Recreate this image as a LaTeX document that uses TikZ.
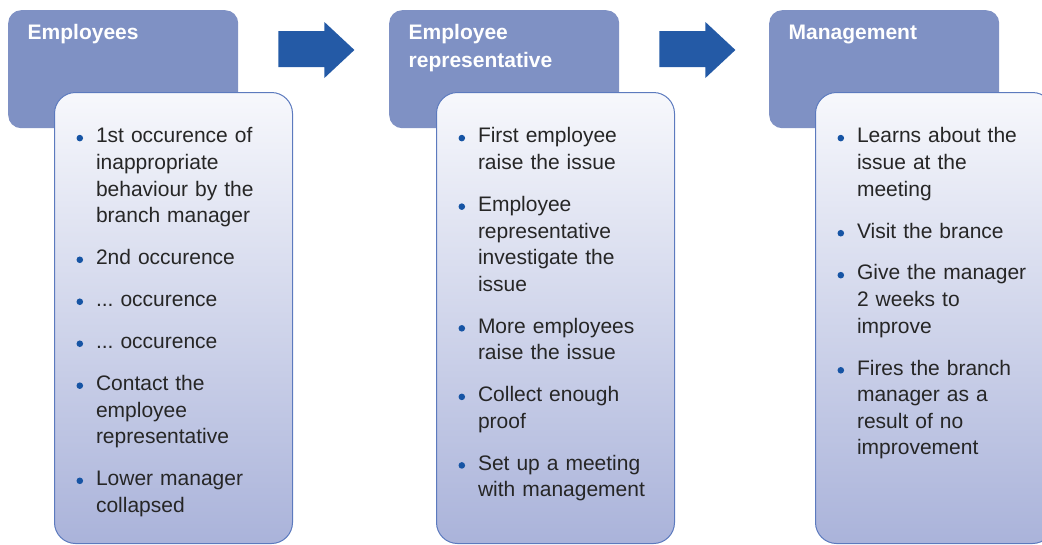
\documentclass[tikz,border=0pt]{standalone}
\usepackage{fontspec}
\setmainfont{Liberation Sans}
\usetikzlibrary{positioning,calc}
\definecolor{hdrblue}{RGB}{127,145,196}
\definecolor{arrblue}{RGB}{36,90,166}
\definecolor{edgeblue}{RGB}{92,122,190}
\definecolor{dotblue}{RGB}{22,84,164}
\definecolor{txtgray}{RGB}{38,38,38}
\definecolor{boxtop}{RGB}{247,248,252}
\definecolor{boxbot}{RGB}{170,179,218}
\newcommand{\tdots}{...}

\begin{document}
\begin{tikzpicture}[x=1pt,y=-1pt,
  hdr/.style={fill=hdrblue,rounded corners=13pt,minimum width=230pt,minimum height=118pt,anchor=north west,inner sep=0},
  body/.style={draw=edgeblue,line width=1pt,top color=boxtop,bottom color=boxbot,rounded corners=21pt,minimum width=238pt,minimum height=451pt,anchor=north west,inner sep=0},
  hdrtext/.style={anchor=north west,inner sep=0,text width=200pt,align=left,text=white,font=\bfseries\fontsize{21}{28.3}\selectfont,execute at begin node=\strut},
  item/.style={inner sep=0,text width=190pt,align=left,text=txtgray,font=\fontsize{21}{26.57}\selectfont\frenchspacing,execute at begin node=\strut,execute at end node=\strut},
  bigarrow/.style={fill=arrblue}]
  \useasboundingbox (0,0) rectangle (1042,544);
  % header boxes, list boxes on top
  \foreach \c/\hx/\bx/\lab in {1/8/54/{Employees},2/389/436/{Employee\\representative},3/769/815/{Management}}{
    \node[hdr] (hdr\c) at (\hx,10) {};
    \node[hdrtext] (hdrlab\c) at ($(hdr\c.north west)+(19.5,9.5)$) {\lab};
    \node[body] (body\c) at (\bx,92) {};
    \coordinate (it\c-0) at ($(body\c.north west)+(42+95,32.1-15)$);
  }
  % block arrows between the headers
  \foreach \a in {1,2}{
    \fill[bigarrow] ($(hdr\a.north east)+(40,21)$) -- ++(46,0) -- ++(0,-9) -- ++(30,28)
      -- ++(-30,28) -- ++(0,-11) -- ++(-46,0) -- cycle;
  }
  % bullet lists
  \foreach \c/\items in {
    1/{{1st occurence of\\inappropriate\\behaviour by the\\branch manager},{2nd occurence},{\tdots{} occurence},{\tdots{} occurence},{Contact the\\employee\\representative},{Lower manager\\collapsed}},
    2/{{First employee\\raise the issue},{Employee\\representative\\investigate the\\issue},{More employees\\raise the issue},{Collect enough\\proof},{Set up a meeting\\with management}},
    3/{{Learns about the\\issue at the\\meeting},{Visit the brance},{Give the manager\\2 weeks to\\improve},{Fires the branch\\manager as a\\result of no\\improvement}}}{
    \foreach \t [count=\k] in \items {
      \pgfmathtruncatemacro\prev{\k-1}
      \node[item,below=15pt of it\c-\prev] (it\c-\k) {\t};
      \fill[dotblue] ($(it\c-\k.north west)+(-16,14)$) circle (3.3);
    }
  }
\end{tikzpicture}
\end{document}
